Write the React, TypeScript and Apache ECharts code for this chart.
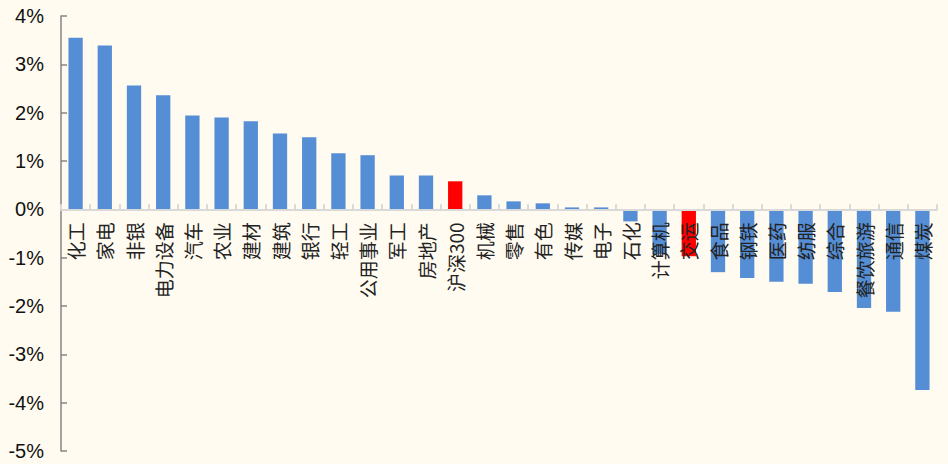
import React, { useEffect, useRef } from "react";
import * as echarts from "echarts";

const categories = [
  "化工", "家电", "非银", "电力设备", "汽车", "农业", "建材", "建筑", "银行", "轻工",
  "公用事业", "军工", "房地产", "沪深300", "机械", "零售", "有色", "传媒", "电子", "石化",
  "计算机", "交运", "食品", "钢铁", "医药", "纺服", "综合", "餐饮旅游", "通信", "煤炭",
];
const values = [
  3.55, 3.39, 2.56, 2.36, 1.94, 1.9, 1.82, 1.57, 1.49, 1.16,
  1.12, 0.7, 0.7, 0.58, 0.29, 0.165, 0.124, 0.04, 0.04, -0.25,
  -0.93, -0.97, -1.3, -1.42, -1.5, -1.54, -1.71, -2.04, -2.12, -3.74,
];
const highlighted = ["沪深300", "交运"];
const yTicks = { min: -5, max: 4, interval: 1 };

const BLUE = "#558ED5";
const RED = "#FF0000";
const BG = "#FFFBF0";

const W = 948;
const H = 464;
const GRID = { left: 61, right: 11, top: 16, bottom: 13 };

export default function App() {
  const ref = useRef<HTMLDivElement>(null);
  useEffect(() => {
    if (!ref.current) return;
    const chart = echarts.init(ref.current, undefined, { renderer: "svg" });
    const gridH = H - GRID.top - GRID.bottom;
    // distance from grid bottom to the zero line
    const zeroOffset = ((0 - yTicks.min) / (yTicks.max - yTicks.min)) * gridH;
    chart.setOption({
      animation: false,
      backgroundColor: BG,
      grid: { ...GRID, containLabel: false, outerBoundsMode: "none" },
      xAxis: {
        type: "category",
        data: categories,
        z: 10,
        position: "bottom",
        offset: -zeroOffset,
        axisLine: { onZero: false, lineStyle: { color: "#D9D9D9", width: 2 } },
        axisTick: { show: true, inside: true, length: 5, lineStyle: { color: "#D9D9D9", width: 2 } },
        axisLabel: {
          rotate: 90,
          interval: 0,
          fontSize: 19,
          fontFamily: "Noto Sans CJK SC",
          color: "#222",
          margin: 13,
          hideOverlap: false,
        },
        splitLine: { show: false },
      },
      yAxis: {
        type: "value",
        min: yTicks.min,
        max: yTicks.max,
        interval: yTicks.interval,
        axisLine: { show: true, lineStyle: { color: "#868686", width: 1.5 } },
        axisTick: { show: true, inside: true, length: 6, lineStyle: { color: "#868686", width: 1.5 } },
        axisLabel: {
          formatter: "{value}%",
          fontSize: 20,
          fontFamily: "Liberation Sans, Arial, sans-serif",
          color: "#111",
          margin: 17,
        },
        splitLine: { show: false },
      },
      series: [
        {
          type: "bar",
          barWidth: "49%",
          data: values.map((v, i) => ({
            value: v,
            itemStyle: { color: highlighted.includes(categories[i]) ? RED : BLUE },
          })),
        },
      ],
    });
    return () => chart.dispose();
  }, []);
  return (
    <div
      ref={ref}
      style={{ position: "fixed", left: 0, top: 0, width: W, height: H, background: BG }}
    />
  );
}
